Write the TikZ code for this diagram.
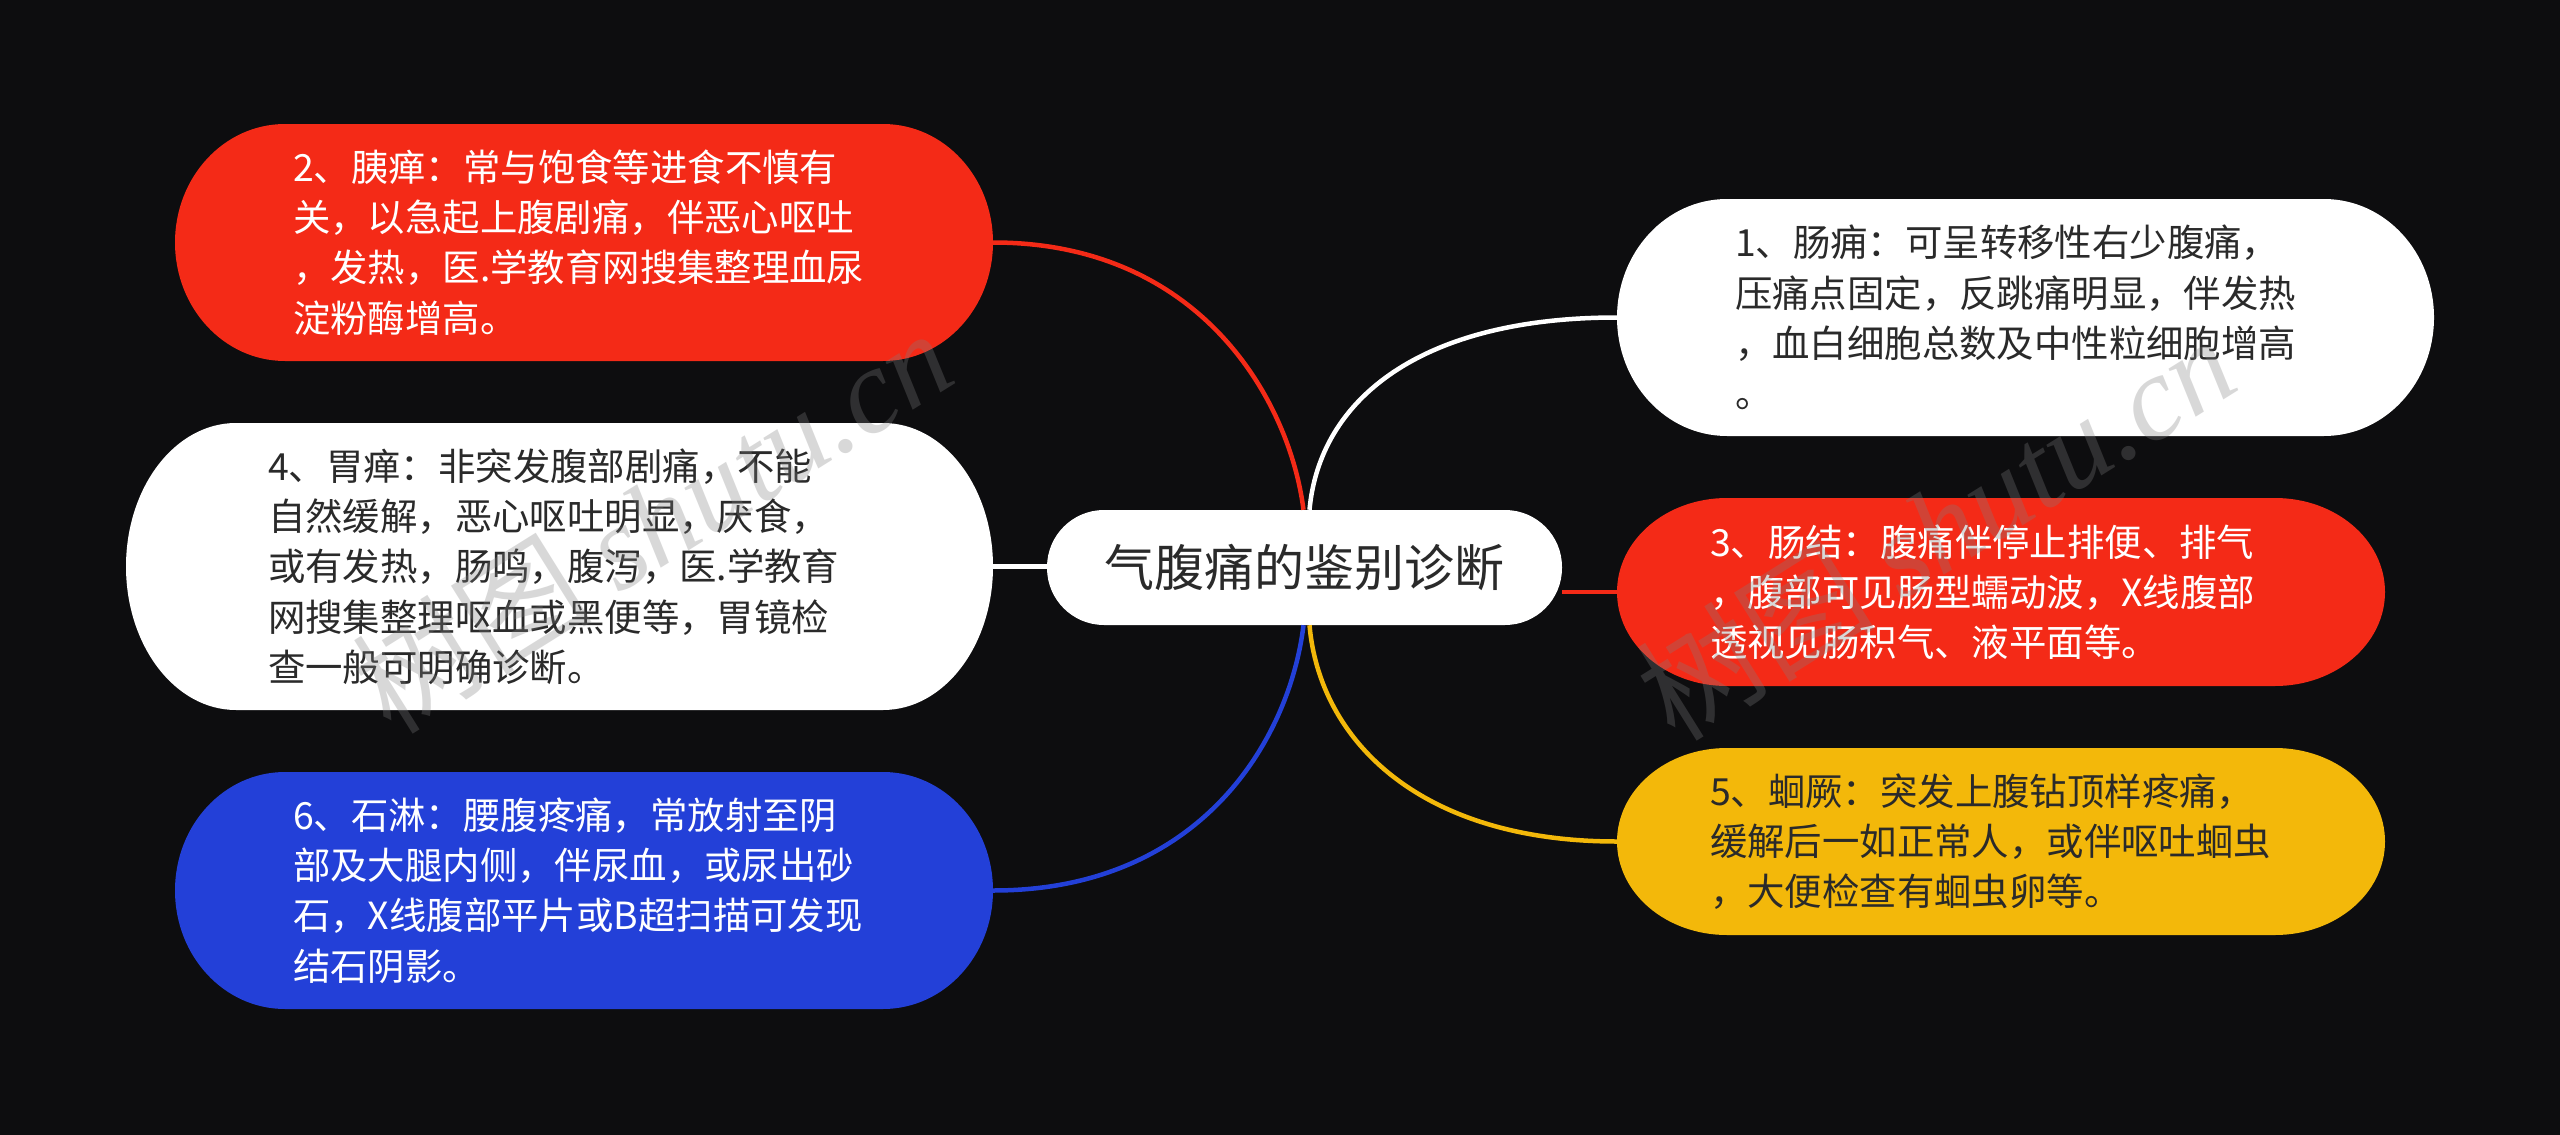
\documentclass[tikz,border=0pt]{standalone}
\usepackage{fontspec}
\setmainfont{Noto Sans CJK SC}
\newfontfamily\wmfont{Liberation Serif}
\usetikzlibrary{calc}
\definecolor{bgc}{HTML}{0D0D0F}
\definecolor{redc}{HTML}{F42A17}
\definecolor{bluec}{HTML}{2340D8}
\definecolor{yelc}{HTML}{F3B80A}
\definecolor{darkc}{HTML}{2A2A2A}
\tikzset{
  pilltext/.style={inner ysep=0pt, align=left, font=\fontsize{37.4}{50.3}\selectfont},
  link/.style={line width=4.5pt},
  watermark/.style={text=gray, opacity=0.3, rotate=32, font=\fontsize{120}{120}\selectfont}
}
\newcommand\wmtext{树图 {\wmfont\itshape shutu.cn}}
% #1 name, #2 x0, #3 y0, #4 x1, #5 y1, #6 fill, #7 text colour, #8 left pad, #9 text
\newcommand\pillnode[9]{%
  \pgfmathsetmacro\pillry{(#5-#3)/2}%
  \pgfmathsetmacro\pillky{\pillry*0.4477}%
  \pgfmathsetmacro\pillw{#4-#2}%
  \pgfmathsetmacro\pillh{#5-#3}%
  \pgfmathsetmacro\pilltw{\pillw-2*#8}%
  \fill[#6] (#2+110,#3) -- (#4-110,#3)
     .. controls (#4-49,#3) and (#4,#3+\pillky) .. (#4,#3+\pillry)
     .. controls (#4,#5-\pillky) and (#4-49,#5) .. (#4-110,#5)
     -- (#2+110,#5)
     .. controls (#2+49,#5) and (#2,#5-\pillky) .. (#2,#3+\pillry)
     .. controls (#2,#3+\pillky) and (#2+49,#3) .. (#2+110,#3) -- cycle;
  \node[pilltext, text=#7, inner xsep=#8 pt, text width=\pilltw pt, minimum height=\pillh pt]
    (#1) at ({(#2+#4)/2},{(#3+#5)/2}) {#9};
}
\begin{document}
\begin{tikzpicture}[x=1pt,y=-1pt]
\useasboundingbox (0,0) rectangle (2560,1135);
\fill[bgc] (0,0) rectangle (2560,1135);
\pillnode{n2}{175}{124}{993}{361}{redc}{white}{118}{2、胰瘅：常与饱食等进食不慎有\\关，以急起上腹剧痛，伴恶心呕吐\\，发热，医.学教育网搜集整理血尿\\淀粉酶增高。}
\pillnode{n4}{126}{423}{993}{710}{white}{darkc}{142}{4、胃瘅：非突发腹部剧痛，不能\\自然缓解，恶心呕吐明显，厌食，\\或有发热，肠鸣，腹泻，医.学教育\\网搜集整理呕血或黑便等，胃镜检\\查一般可明确诊断。}
\pillnode{n6}{175}{772}{993}{1009}{bluec}{white}{118}{6、石淋：腰腹疼痛，常放射至阴\\部及大腿内侧，伴尿血，或尿出砂\\石，X线腹部平片或B超扫描可发现\\结石阴影。}
\pillnode{n1}{1617}{199}{2434}{436}{white}{darkc}{118}{1、肠痈：可呈转移性右少腹痛，\\压痛点固定，反跳痛明显，伴发热\\，血白细胞总数及中性粒细胞增高\\。}
\pillnode{n3}{1617}{498}{2385}{686}{redc}{white}{93}{3、肠结：腹痛伴停止排便、排气\\，腹部可见肠型蠕动波，X线腹部\\透视见肠积气、液平面等。}
\pillnode{n5}{1617}{748}{2385}{935}{yelc}{darkc}{93}{5、蛔厥：突发上腹钻顶样疼痛，\\缓解后一如正常人，或伴呕吐蛔虫\\，大便检查有蛔虫卵等。}
\node[fill=white, rounded corners=57pt, minimum width=515pt, minimum height=115pt, inner sep=0pt, text=darkc, font=\fontsize{50}{60}\selectfont] (c) at (1304.5,567.5) {气腹痛的鉴别诊断};
\coordinate (ct2) at ($(c.north)+(-1,0)$);
\coordinate (ct1) at ($(c.north)+(5,0)$);
\coordinate (cb6) at ($(c.south)+(-1,0)$);
\coordinate (cb5) at ($(c.south)+(5,0)$);
\draw[link,redc] (n2.east) .. controls +(207,0) and ($(ct2)+(-14,-110)$) .. (ct2);
\draw[link,white] (n1.west) .. controls +(-197,0) and ($(ct1)+(10,-110)$) .. (ct1);
\draw[link,bluec] (n6.east) .. controls +(207,0) and ($(cb6)+(-14,115)$) .. (cb6);
\draw[link,yelc] (n5.west) .. controls +(-197,0) and ($(cb5)+(10,115)$) .. (cb5);
\draw[link,white] (n4.east) -- (n4.east -| c.west);
\draw[link,redc] (n3.west) -- (n3.west -| c.east);
\node[watermark] (w1) at (652,520) {\wmtext};
\node[watermark] (w2) at (1935,527) {\wmtext};
\end{tikzpicture}
\end{document}
